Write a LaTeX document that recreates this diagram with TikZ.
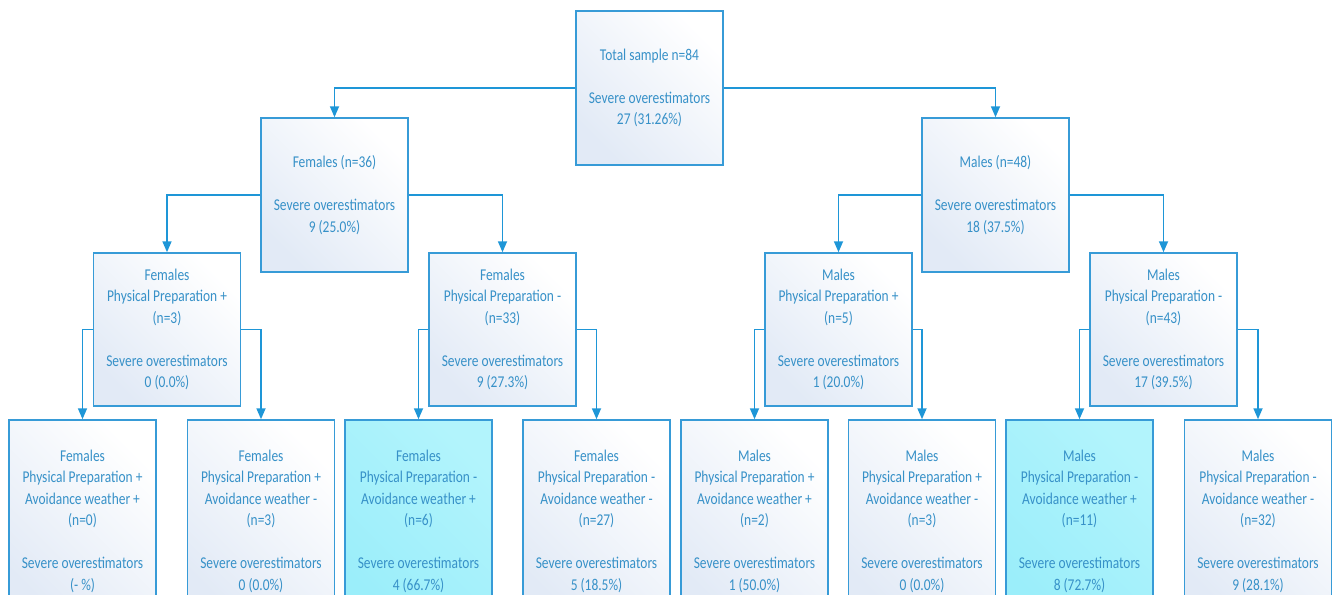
\documentclass[tikz,border=0pt]{standalone}
\usepackage{fontspec}
\setmainfont{Carlito}[FakeStretch=0.815]
\usetikzlibrary{arrows.meta}
\definecolor{txt}{RGB}{55,145,200}
\definecolor{bord}{RGB}{55,155,215}
\definecolor{arr}{RGB}{30,150,215}
\definecolor{shadec}{RGB}{226,234,246}
\definecolor{cyanA}{RGB}{155,238,250}
\definecolor{cyanB}{RGB}{178,244,252}
\begin{document}
\begin{tikzpicture}[x=1pt,y=-1pt,
  box/.style={draw=bord, line width=1.5pt, minimum width=147pt, minimum height=154pt,
    inner sep=0pt, align=center, text=txt, font=\fontsize{16.5}{21.5}\selectfont,
    top color=white, bottom color=shadec, shading angle=-45},
  leaf/.style={box, minimum height=202pt},
  hot/.style={top color=cyanB, bottom color=cyanA, shading angle=-45},
  conn/.style={draw=arr, line width=1.7pt, -{Triangle[width=9pt,length=11pt]}}]
\useasboundingbox (0,0) rectangle (1332,594);
\clip (0,0) rectangle (1332,594);
% root
\node[box] (root) at (649.5,88) {Total sample n=84\\[21.5pt]Severe overestimators\\27 (31.26\%)};
% level 1
\node[box] (fem) at (334.5,195) {Females (n=36)\\[21.5pt]Severe overestimators\\9 (25.0\%)};
\node[box] (mal) at (995.5,195) {Males (n=48)\\[21.5pt]Severe overestimators\\18 (37.5\%)};
% level 2
\node[box, minimum height=153pt] (femA) at (167,329.5) {Females\\Physical Preparation +\\(n=3)\\[21.5pt]Severe overestimators\\0 (0.0\%)};
\node[box, minimum height=153pt] (femB) at (502.5,329.5) {Females\\Physical Preparation -\\(n=33)\\[21.5pt]Severe overestimators\\9 (27.3\%)};
\node[box, minimum height=153pt] (malA) at (838.5,329.5) {Males\\Physical Preparation +\\(n=5)\\[21.5pt]Severe overestimators\\1 (20.0\%)};
\node[box, minimum height=153pt] (malB) at (1163.5,329.5) {Males\\Physical Preparation -\\(n=43)\\[21.5pt]Severe overestimators\\17 (39.5\%)};
% leaves
\node[leaf] (l1) at (82.5,521) {Females\\Physical Preparation +\\Avoidance weather +\\(n=0)\\[21.5pt]Severe overestimators\\(- \%)};
\node[leaf] (l2) at (261,521) {Females\\Physical Preparation +\\Avoidance weather -\\(n=3)\\[21.5pt]Severe overestimators\\0 (0.0\%)};
\node[leaf, hot] (l3) at (418.5,521) {Females\\Physical Preparation -\\Avoidance weather +\\(n=6)\\[21.5pt]Severe overestimators\\4 (66.7\%)};
\node[leaf] (l4) at (596.5,521) {Females\\Physical Preparation -\\Avoidance weather -\\(n=27)\\[21.5pt]Severe overestimators\\5 (18.5\%)};
\node[leaf] (l5) at (754.5,521) {Males\\Physical Preparation +\\Avoidance weather +\\(n=2)\\[21.5pt]Severe overestimators\\1 (50.0\%)};
\node[leaf] (l6) at (922,521) {Males\\Physical Preparation +\\Avoidance weather -\\(n=3)\\[21.5pt]Severe overestimators\\0 (0.0\%)};
\node[leaf, hot] (l7) at (1079.5,521) {Males\\Physical Preparation -\\Avoidance weather +\\(n=11)\\[21.5pt]Severe overestimators\\8 (72.7\%)};
\node[leaf] (l8) at (1258,521) {Males\\Physical Preparation -\\Avoidance weather -\\(n=32)\\[21.5pt]Severe overestimators\\9 (28.1\%)};
% connectors
\draw[conn] (root.west) -| (fem.north);
\draw[conn] (root.east) -| (mal.north);
\draw[conn] (fem.west) -| (femA.north);
\draw[conn] (fem.east) -| (femB.north);
\draw[conn] (mal.west) -| (malA.north);
\draw[conn] (mal.east) -| (malB.north);
\draw[conn] (femA.west) -| (l1.north);
\draw[conn] (femA.east) -| (l2.north);
\draw[conn] (femB.west) -| (l3.north);
\draw[conn] (femB.east) -| (l4.north);
\draw[conn] (malA.west) -| (l5.north);
\draw[conn] (malA.east) -| (l6.north);
\draw[conn] (malB.west) -| (l7.north);
\draw[conn] (malB.east) -| (l8.north);
\end{tikzpicture}
\end{document}
